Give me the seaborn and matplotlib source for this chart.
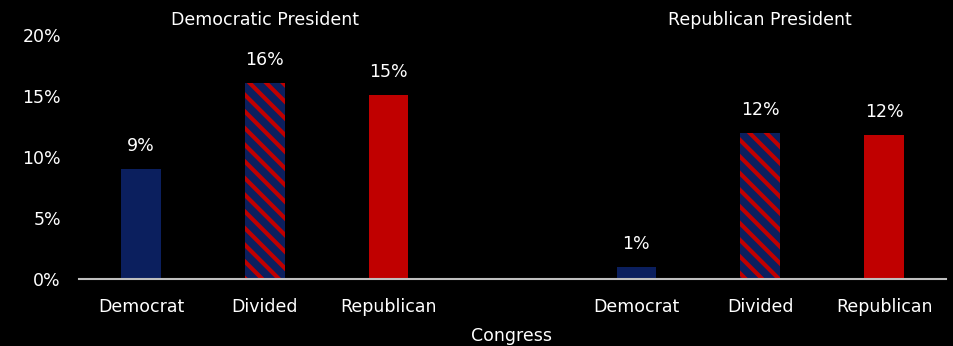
import matplotlib
matplotlib.use("Agg")
import matplotlib.pyplot as plt
import seaborn as sns
import pandas as pd
from matplotlib.ticker import FuncFormatter

# ---- data ----
categories = ["Democrat", "Divided", "Republican"]
presidents = ["Democratic President", "Republican President"]
dem_president = [9.0, 16.1, 15.1]
rep_president = [1.0, 12.0, 11.8]
y_ticks = [0, 5, 10, 15, 20]

NAVY = "#0B1F5E"
RED = "#C00000"
palette = {"Democrat": NAVY, "Divided": NAVY, "Republican": RED}

rows = []
for g, vals in enumerate([dem_president, rep_president]):
    for c, (cat, v) in enumerate(zip(categories, vals)):
        rows.append({"slot": g * 4 + c, "Congress": cat, "value": v,
                     "President": presidents[g]})
df = pd.DataFrame(rows)
divided_slots = set(df.loc[df["Congress"] == "Divided", "slot"])

sns.set_theme(style="dark")
plt.rcParams["font.family"] = ["DejaVu Sans"]
plt.rcParams["hatch.linewidth"] = 3.0
plt.rcParams["hatch.color"] = RED

FS = 12.5

fig = plt.figure(figsize=(9.54, 3.46), dpi=100, facecolor="black")
ax = fig.add_axes([79 / 954, 67 / 346, 867 / 954, 244 / 346])
ax.set_facecolor("black")

sns.barplot(data=df, x="slot", y="value", hue="Congress", palette=palette,
            native_scale=True, dodge=False, width=0.32, legend=False,
            saturation=1, ax=ax)

# hatch the Divided bars
for p in ax.patches:
    cx = p.get_x() + p.get_width() / 2
    p.set_linewidth(0)
    if round(cx) in divided_slots:
        p.set_hatch("\\\\")
        p.set_edgecolor(RED)

# value labels
for cont in ax.containers:
    vals = [p.get_height() for p in cont.patches]
    ax.bar_label(cont, labels=[f"{v:.0f}%" for v in vals], padding=10,
                 color="white", fontsize=FS)

ax.set_xlim(-0.5, 6.5)
ax.set_ylim(0, 20)
ax.set_yticks(y_ticks)
ax.yaxis.set_major_formatter(FuncFormatter(lambda v, _: f"{v:.0f}%"))
ax.set_xticks(df["slot"].tolist())
ax.set_xticklabels(df["Congress"].tolist())
ax.tick_params(axis="both", colors="white", labelsize=FS, length=0)
ax.tick_params(axis="x", pad=14)
ax.tick_params(axis="y", pad=13)
ax.grid(False)
for s in ["top", "right", "left"]:
    ax.spines[s].set_visible(False)
ax.spines["bottom"].set_visible(True)
ax.spines["bottom"].set_color("#BFBFBF")
ax.spines["bottom"].set_linewidth(1.5)

ax.set_xlabel("")
ax.set_ylabel("")
fig.text(512 / 954, 10 / 346, "Congress", color="white", fontsize=FS,
         ha="center", va="center")

for g, name in enumerate(presidents):
    ax.text(g * 4 + 1, 1.062, name, transform=ax.get_xaxis_transform(),
            color="white", fontsize=FS, ha="center", va="center")

fig.savefig("out.png", dpi=100, facecolor="black")
